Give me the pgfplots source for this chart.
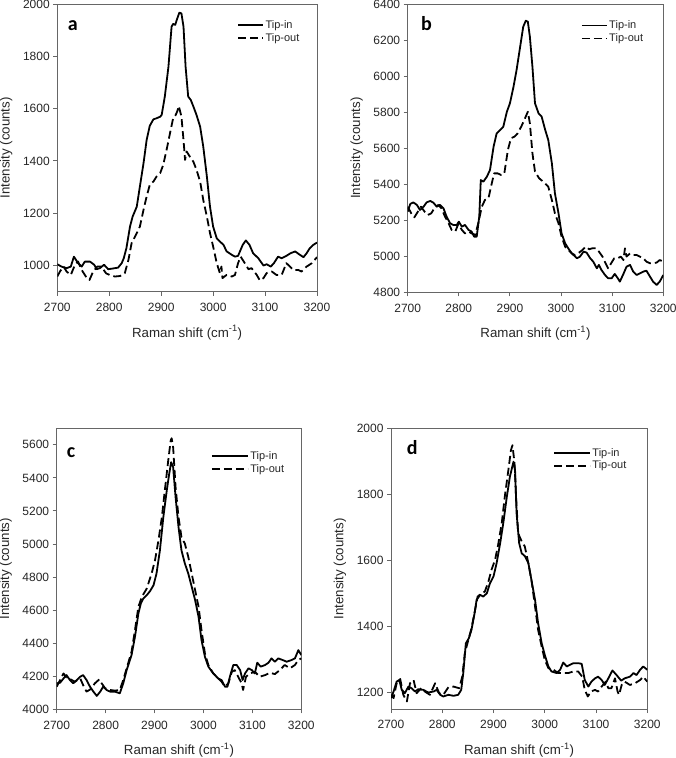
\documentclass[border=0pt]{standalone}
\usepackage{fontspec}
\setmainfont{Liberation Sans}
\newfontfamily\letterfont{Carlito}
\usepackage{pgfplots}
\pgfplotsset{compat=1.18}
\pgfplotsset{
  panel/.style={
    scale only axis,
    anchor=south west,
    xmin=2700, xmax=3200,
    xtick={2700,2800,2900,3000,3100,3200},
    tick align=outside,
    xtick pos=bottom, ytick pos=left,
    major tick length=4pt,
    axis line style={black!60, line width=0.9pt},
    every tick/.style={black!60, line width=0.9pt},
    /pgf/number format/assume math mode=true,
    /pgf/number format/1000 sep={},
    tick label style={font=\fontsize{12}{14}\selectfont, black!85},
    xticklabel style={yshift=-4pt},
    label style={font=\fontsize{13.3}{15}\selectfont, black!85},
    xlabel={Raman shift (cm\textsuperscript{-1})},
    ylabel={Intensity (counts)},
    xlabel style={at={(axis description cs:0.5,0)}, anchor=center, yshift=-41pt},
    ylabel style={at={([xshift=-51pt]axis description cs:0,0.5)}, anchor=center},
    legend cell align=left,
    legend style={draw=none, fill=none, inner sep=0pt, anchor=west,
      font=\fontsize{11}{13}\selectfont, row sep=0.5pt,
      nodes={inner sep=1.5pt, text=black!85}},
    clip=true,
  },
  tin/.style={black, line width=1.8pt, line join=round},
  tout/.style={black, line width=1.8pt, dash pattern=on 8pt off 4pt, line join=round},
}
\begin{document}
\begin{tikzpicture}[x=1pt,y=1pt]
\path[use as bounding box] (0pt,0pt) rectangle (675pt,758pt);

% ---------------- panel a
\begin{axis}[panel, at={(57.3pt,466.3pt)}, width=259.7pt, height=287.7pt,
  ymin=900, ymax=2000, ytick={1000,1200,1400,1600,1800,2000},
  legend style={at={(0.692,0.904)}},
  legend image code/.code={\draw[#1, line width=1.8pt] (0pt,0pt) -- (25pt,0pt);}]
\addplot[tin] coordinates {
(2700,1005)(2708,996)(2718,990)(2726,996)(2732,1034)(2740,1009)(2747,996)(2753,1015)
(2763,1015)(2771,1003)(2776,986)(2782,990)(2790,1003)(2798,986)(2808,989)(2817,992)
(2824,1009)(2828,1028)(2833,1066)(2840,1149)(2845,1187)(2853,1225)(2859,1302)(2866,1391)
(2872,1480)(2878,1534)(2885,1559)(2891,1563)(2898,1569)(2901,1576)(2907,1646)(2914,1760)
(2920,1913)(2923,1924)(2927,1920)(2930,1939)(2935,1967)(2939,1964)(2943,1913)(2947,1760)
(2952,1646)(2957,1633)(2962,1608)(2968,1576)(2975,1531)(2981,1455)(2988,1340)(2994,1225)
(3000,1149)(3007,1104)(3013,1092)(3020,1079)(3026,1054)(3036,1041)(3042,1034)(3048,1037)
(3057,1079)(3063,1096)(3070,1079)(3077,1047)(3087,1028)(3097,1000)(3103,1005)(3111,996)
(3117,1009)(3125,1034)(3132,1028)(3141,1037)(3149,1047)(3158,1054)(3167,1041)(3174,1032)
(3180,1047)(3186,1066)(3193,1079)(3200,1088)};
\addlegendentry{Tip-in}
\addplot[tout] coordinates {
(2700,958)(2705,977)(2712,996)(2718,977)(2726,964)(2734,1003)(2740,1015)(2747,983)
(2755,958)(2762,945)(2769,977)(2777,996)(2785,996)(2794,970)(2801,964)(2811,958)
(2821,960)(2830,971)(2837,1022)(2843,1085)(2853,1124)(2859,1149)(2866,1213)(2872,1264)
(2878,1308)(2885,1321)(2891,1340)(2898,1353)(2904,1385)(2911,1448)(2917,1506)(2923,1563)
(2928,1576)(2931,1590)(2934,1610)(2939,1569)(2943,1480)(2946,1404)(2949,1436)(2955,1417)
(2962,1397)(2968,1366)(2975,1321)(2981,1251)(2988,1187)(2994,1124)(3000,1073)(3007,1009)
(3013,971)(3016,996)(3018,952)(3026,964)(3036,958)(3042,964)(3048,1009)(3053,1034)
(3061,1009)(3068,986)(3074,990)(3084,964)(3090,943)(3097,952)(3103,971)(3113,977)
(3122,964)(3132,964)(3141,1009)(3148,996)(3154,983)(3164,983)(3170,977)(3180,996)
(3190,1009)(3200,1032)};
\addlegendentry{Tip-out}
\end{axis}
\node[anchor=base west, inner sep=0pt, font=\letterfont\bfseries\fontsize{20}{22}\selectfont] at (67.7pt,727.3pt) {a};

% ---------------- panel b
\begin{axis}[panel, at={(407.7pt,465.7pt)}, width=255.6pt, height=288.3pt,
  ymin=4800, ymax=6400, ytick={4800,5000,5200,5400,5600,5800,6000,6200,6400},
  legend style={at={(0.677,0.903)}},
  legend image code/.code={\draw[#1, line width=1.8pt] (0pt,0pt) -- (25pt,0pt);}]
\addplot[tin] coordinates {
(2700,5248)(2705,5290)(2711,5299)(2718,5285)(2724,5257)(2731,5275)(2737,5299)(2744,5307)
(2750,5298)(2757,5275)(2763,5285)(2770,5266)(2776,5220)(2783,5183)(2789,5174)(2796,5174)
(2800,5192)(2806,5164)(2812,5174)(2819,5146)(2825,5137)(2830,5109)(2835,5109)(2840,5220)
(2843,5423)(2848,5414)(2855,5442)(2861,5479)(2868,5608)(2874,5682)(2881,5701)(2887,5719)
(2894,5802)(2900,5849)(2907,5941)(2913,6034)(2920,6163)(2926,6274)(2931,6307)(2935,6302)
(2939,6218)(2944,6052)(2949,5849)(2956,5793)(2962,5775)(2969,5701)(2975,5645)(2982,5516)
(2988,5349)(2995,5238)(3001,5127)(3008,5072)(3014,5044)(3021,5016)(3031,4989)(3037,4998)
(3044,5026)(3050,5020)(3057,4989)(3063,4970)(3070,4933)(3074,4952)(3079,4924)(3086,4896)
(3092,4878)(3099,4878)(3105,4902)(3111,4878)(3115,4859)(3122,4902)(3128,4942)(3135,4952)
(3141,4915)(3148,4896)(3154,4905)(3161,4915)(3167,4920)(3174,4887)(3180,4859)(3187,4841)
(3193,4859)(3200,4896)};
\addlegendentry{Tip-in}
\addplot[tout] coordinates {
(2700,5275)(2707,5238)(2713,5216)(2720,5248)(2726,5275)(2733,5248)(2739,5229)(2746,5238)
(2752,5266)(2760,5285)(2766,5266)(2773,5220)(2780,5183)(2786,5146)(2793,5137)(2799,5179)
(2806,5146)(2812,5127)(2819,5137)(2825,5127)(2832,5118)(2838,5183)(2845,5275)(2851,5312)
(2858,5322)(2863,5386)(2869,5460)(2876,5460)(2883,5451)(2889,5460)(2896,5590)(2902,5655)
(2909,5664)(2915,5682)(2922,5719)(2928,5756)(2935,5802)(2939,5738)(2944,5571)(2949,5470)
(2957,5433)(2965,5414)(2975,5386)(2982,5312)(2988,5238)(2995,5183)(3001,5109)(3008,5053)
(3014,5035)(3021,5016)(3027,5007)(3035,5020)(3042,5035)(3048,5053)(3055,5039)(3061,5044)
(3068,5044)(3074,5026)(3081,4998)(3087,4961)(3092,4933)(3098,4961)(3104,4989)(3111,4989)
(3117,4998)(3122,4979)(3125,5044)(3128,4998)(3135,5016)(3141,5007)(3148,5007)(3154,4998)
(3161,4989)(3167,4970)(3174,4961)(3180,4961)(3187,4965)(3193,4979)(3200,4970)};
\addlegendentry{Tip-out}
\end{axis}
\node[anchor=base west, inner sep=0pt, font=\letterfont\bfseries\fontsize{20}{22}\selectfont] at (421pt,727.3pt) {b};

% ---------------- panel c
\begin{axis}[panel, at={(56.7pt,48.7pt)}, width=244.6pt, height=281pt,
  ymin=4000, ymax=5700, ytick={4000,4200,4400,4600,4800,5000,5200,5400,5600},
  legend style={at={(0.630,0.878)}},
  legend image code/.code={\draw[#1, line width=1.8pt] (0pt,0pt) -- (36pt,0pt);}]
\addplot[tin] coordinates {
(2700,4157)(2707,4161)(2714,4187)(2720,4207)(2727,4177)(2734,4157)(2741,4177)(2748,4197)
(2754,4207)(2761,4177)(2768,4137)(2775,4107)(2782,4081)(2789,4107)(2795,4137)(2802,4117)
(2809,4107)(2819,4107)(2829,4097)(2836,4157)(2843,4237)(2853,4328)(2860,4439)(2867,4580)
(2872,4640)(2877,4670)(2884,4690)(2891,4716)(2898,4751)(2904,4821)(2911,4962)(2918,5163)
(2925,5324)(2930,5425)(2934,5495)(2938,5465)(2943,5284)(2949,5103)(2955,4962)(2962,4882)
(2969,4821)(2976,4741)(2983,4660)(2990,4559)(2996,4419)(3003,4318)(3010,4258)(3020,4217)
(3030,4187)(3037,4177)(3044,4137)(3049,4137)(3054,4197)(3061,4268)(3068,4268)(3075,4237)
(3080,4177)(3085,4217)(3092,4248)(3099,4237)(3105,4217)(3110,4282)(3117,4258)(3126,4268)
(3133,4282)(3139,4308)(3146,4288)(3153,4308)(3162,4298)(3170,4288)(3180,4298)(3187,4308)
(3194,4358)(3200,4328)};
\addlegendentry{Tip-in}
\addplot[tout] coordinates {
(2700,4137)(2707,4177)(2714,4217)(2720,4193)(2731,4177)(2737,4167)(2748,4187)(2754,4147)
(2761,4107)(2769,4121)(2778,4157)(2787,4181)(2792,4157)(2799,4127)(2809,4117)(2819,4113)
(2829,4117)(2836,4177)(2843,4248)(2853,4348)(2860,4479)(2867,4620)(2874,4680)(2884,4730)
(2894,4821)(2901,4902)(2908,5022)(2915,5163)(2921,5324)(2928,5505)(2933,5626)(2935,5640)
(2938,5586)(2943,5344)(2949,5163)(2955,5042)(2962,5002)(2969,4922)(2976,4821)(2983,4720)
(2990,4620)(2996,4479)(3003,4338)(3010,4268)(3020,4217)(3030,4187)(3037,4167)(3044,4137)
(3051,4157)(3058,4227)(3064,4237)(3071,4197)(3078,4157)(3081,4117)(3087,4197)(3095,4217)
(3105,4227)(3115,4197)(3126,4207)(3136,4221)(3146,4213)(3156,4237)(3166,4268)(3177,4248)
(3187,4268)(3194,4298)(3200,4308)};
\addlegendentry{Tip-out}
\end{axis}
\node[anchor=base west, inner sep=0pt, font=\letterfont\bfseries\fontsize{20}{22}\selectfont] at (66.7pt,300.3pt) {c};

% ---------------- panel d
\begin{axis}[panel, at={(391pt,49pt)}, width=256.3pt, height=280.3pt,
  ymin=1150, ymax=2000, ytick={1200,1400,1600,1800,2000},
  legend style={at={(0.632,0.891)}},
  legend image code/.code={\draw[#1, line width=1.8pt] (0pt,0pt) -- (36pt,0pt);}]
\addplot[tin] coordinates {
(2700,1183)(2705,1203)(2711,1233)(2716,1238)(2721,1208)(2727,1198)(2734,1218)(2740,1213)
(2747,1203)(2753,1210)(2763,1208)(2773,1200)(2783,1203)(2789,1208)(2796,1193)(2802,1188)
(2812,1193)(2822,1190)(2831,1193)(2837,1208)(2841,1259)(2846,1349)(2852,1365)(2857,1390)
(2863,1440)(2867,1481)(2874,1496)(2880,1491)(2887,1501)(2893,1531)(2900,1552)(2906,1592)
(2913,1653)(2919,1713)(2926,1794)(2932,1855)(2939,1900)(2942,1875)(2945,1743)(2950,1653)
(2955,1622)(2961,1614)(2968,1592)(2974,1541)(2981,1481)(2987,1410)(2994,1349)(3000,1314)
(3007,1279)(3013,1264)(3023,1259)(3030,1269)(3036,1291)(3043,1279)(3049,1284)(3056,1289)
(3065,1289)(3072,1287)(3078,1238)(3085,1218)(3091,1233)(3098,1243)(3104,1248)(3111,1238)
(3117,1223)(3124,1243)(3132,1267)(3140,1253)(3149,1236)(3156,1243)(3166,1248)(3173,1259)
(3179,1253)(3186,1269)(3192,1279)(3200,1269)};
\addlegendentry{Tip-in}
\addplot[tout] coordinates {
(2700,1193)(2705,1183)(2711,1228)(2718,1241)(2724,1193)(2731,1173)(2737,1228)(2744,1238)
(2750,1198)(2759,1213)(2766,1203)(2776,1193)(2786,1228)(2794,1198)(2802,1193)(2812,1216)
(2822,1218)(2833,1213)(2839,1248)(2844,1319)(2851,1360)(2857,1395)(2864,1450)(2869,1491)
(2877,1501)(2883,1506)(2890,1536)(2896,1572)(2903,1602)(2909,1648)(2916,1713)(2922,1794)
(2929,1875)(2934,1935)(2937,1950)(2941,1895)(2944,1794)(2948,1683)(2955,1658)(2961,1643)
(2968,1592)(2974,1541)(2981,1461)(2987,1390)(2994,1339)(3000,1299)(3007,1274)(3017,1269)
(3026,1259)(3036,1259)(3046,1259)(3056,1264)(3065,1264)(3073,1248)(3078,1208)(3084,1188)
(3090,1203)(3098,1208)(3104,1203)(3111,1218)(3119,1233)(3124,1213)(3130,1213)(3137,1243)
(3142,1203)(3145,1193)(3150,1223)(3156,1233)(3166,1223)(3176,1228)(3186,1238)(3192,1248)
(3200,1233)};
\addlegendentry{Tip-out}
\end{axis}
\node[anchor=base west, inner sep=0pt, font=\letterfont\bfseries\fontsize{20}{22}\selectfont] at (406.7pt,303pt) {d};
\end{tikzpicture}
\end{document}
